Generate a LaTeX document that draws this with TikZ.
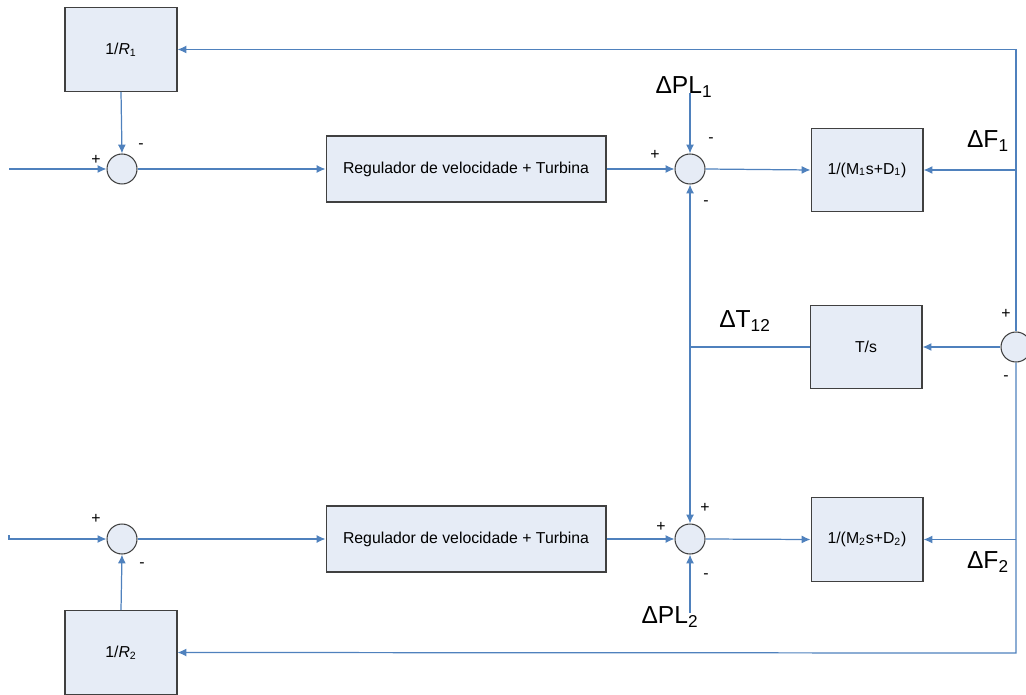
\documentclass[tikz,border=0pt]{standalone}
\usepackage{fontspec}
\setmainfont{Liberation Sans}
\usetikzlibrary{arrows.meta}
\definecolor{lineblue}{RGB}{79,129,189}
\definecolor{boxfill}{RGB}{230,236,246}

\begin{document}
\begin{tikzpicture}[x=0.02cm, y=-0.02cm, >={Latex[length=5pt,width=4.5pt]}, % 1単位=1px、下向き
    blk/.style={draw=black!75, line width=0.6pt, fill=boxfill, minimum width=2.24cm, minimum height=1.67cm, inner sep=0pt, font=\fontsize{9}{11}\selectfont},
    gov/.style={blk, minimum width=5.6cm, minimum height=1.32cm},
    sum/.style={circle, draw=black!75, line width=0.6pt, fill=boxfill, minimum size=0.6cm, inner sep=0pt},
    sig/.style={lineblue, line width=0.7pt},
    sgn/.style={font=\fontsize{9}{10}\selectfont, inner sep=0pt},
    lbl/.style={font=\fontsize{14}{16}\selectfont, inner sep=0pt}]
    \useasboundingbox (0,0) rectangle (1026,695); % 画像の大きさ

    % 上のエリア
    \node[blk] (r1) at (121,49.5) {1/\textit{R}\textsubscript{1}};
    \node[sum] (s1) at (122,169) {};
    \node[gov] (g1) at (466,169) {Regulador de velocidade + Turbina};
    \node[sum] (s2) at (690,169) {};
    \node[blk] (m1) at (867,170) {1/(M\textsubscript{1}s+D\textsubscript{1})};

    % 連系線
    \node[blk] (ts) at (866,347) {T/s};
    \node[sum] (s6) at (1016,347) {};

    % 下のエリア
    \node[sum] (s4) at (122,539) {};
    \node[gov] (g2) at (466,539) {Regulador de velocidade + Turbina};
    \node[sum] (s5) at (690,539) {};
    \node[blk] (m2) at (867,539.5) {1/(M\textsubscript{2}s+D\textsubscript{2})};
    \node[blk] (r2) at (121,652.5) {1/\textit{R}\textsubscript{2}};

    % 分岐点
    \coordinate (in1) at (9,169);
    \coordinate (in2) at (9,539);
    \coordinate (pl1) at (690,93);
    \coordinate (pl2) at (690,613);
    \coordinate (tr) at (1016,49.5);
    \coordinate (br) at (1016,653);
    \coordinate (jt) at (690,347);

    \draw[sig,->] (in1) -- (s1.west);
    \draw[sig,->] (r1.south) -- (s1.north);
    \draw[sig,->] (s1.east) -- (g1.west);
    \draw[sig,->] (g1.east) -- (s2.west);
    \draw[sig,->] (pl1) -- (s2.north);
    \draw[sig,->] (s2.east) -- (m1.west);
    \draw[sig,->] (m1.east -| tr) -- (m1.east);

    \draw[sig] (tr) -- (s6.north); % 右の縦線
    \draw[sig,->] (tr) -- (r1.east);
    \draw[sig,->] (s6.south) -- (br) -- (r2.east);
    \draw[sig,->] (s6.west) -- (ts.east);
    \draw[sig] (ts.west) -- (jt);
    \draw[sig,->] (jt) -- (s2.south);
    \draw[sig,->] (jt) -- (s5.north);

    \draw[sig,->] (in2) ++(0,-4) -- (in2) -- (s4.west);
    \draw[sig,->] (r2.north) -- (s4.south);
    \draw[sig,->] (s4.east) -- (g2.west);
    \draw[sig,->] (g2.east) -- (s5.west);
    \draw[sig,->] (pl2) -- (s5.south);
    \draw[sig,->] (s5.east) -- (m2.west);
    \draw[sig,->] (m2.east -| br) -- (m2.east);

    % 符号
    \node[sgn] (p11) at (96,160) {+};
    \node[sgn] (m11) at (141,146) {-};
    \node[sgn] (p21) at (655,155) {+};
    \node[sgn] (m21) at (711,140) {-};
    \node[sgn] (m22) at (706,203) {-};
    \node[sgn] (p61) at (1006,314) {+};
    \node[sgn] (m61) at (1006,378) {-};
    \node[sgn] (p41) at (96,519) {+};
    \node[sgn] (m41) at (142,565) {-};
    \node[sgn] (p51) at (661,527) {+};
    \node[sgn] (p52) at (705,508) {+};
    \node[sgn] (m51) at (706,576) {-};

    % 信号名
    \node[lbl] (dpl1) at (684,87) {ΔPL\textsubscript{1}};
    \node[lbl] (dpl2) at (670,617) {ΔPL\textsubscript{2}};
    \node[lbl] (dt12) at (745,321) {ΔT\textsubscript{12}};
    \node[lbl] (df1) at (988,141) {ΔF\textsubscript{1}};
    \node[lbl] (df2) at (988,562) {ΔF\textsubscript{2}};
  \end{tikzpicture}
\end{document}
